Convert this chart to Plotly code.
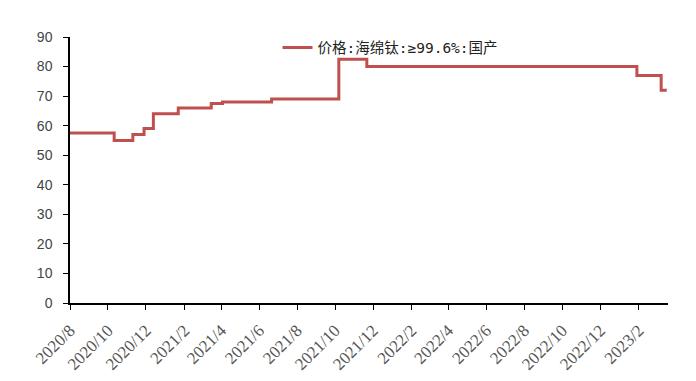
import plotly.graph_objects as go

# Sponge titanium price (domestic, >=99.6%), step changes by date
dates = [
    "2020-08-01", "2020-10-11", "2020-11-10", "2020-11-28", "2020-12-13",
    "2021-01-22", "2021-03-16", "2021-04-03", "2021-06-21", "2021-10-07",
    "2021-11-21", "2023-01-29", "2023-03-09", "2023-03-18",
]
prices = [
    57.5, 55.0, 57.0, 59.0, 64.0,
    66.0, 67.5, 68.0, 69.0, 82.5,
    80.0, 77.0, 72.0, 72.0,
]
series_name = "价格:海绵钛:≥99.6%:国产"

fig = go.Figure()
fig.add_trace(go.Scatter(
    x=dates, y=prices, mode="lines", name=series_name,
    line=dict(color="#C0504D", width=3, shape="hv"),
))

fig.update_layout(
    width=696, height=381,
    margin=dict(l=70, r=28, t=37, b=78),
    plot_bgcolor="white", paper_bgcolor="white",
    showlegend=True,
    legend=dict(
        x=0.347, y=0.96, xanchor="left", yanchor="middle",
        bgcolor="rgba(0,0,0,0)",
        font=dict(family="DejaVu Sans Mono, Noto Sans CJK SC", size=14.5, color="#222"),
    ),
)
fig.update_xaxes(
    type="date", automargin=False,
    range=["2020-08-01", "2023-03-20"],
    tick0="2020-08-01", dtick="M2", tickformat="%Y/%-m",
    tickangle=-45,
    ticks="outside", ticklen=5, tickcolor="black",
    showline=True, linecolor="black", linewidth=1.5,
    showgrid=False, zeroline=False,
    ticklabelstandoff=4,
    tickfont=dict(family="Liberation Serif", size=17, color="#555"),
)
fig.update_yaxes(
    range=[0, 90], dtick=10, automargin=False,
    ticks="outside", ticklen=5, tickcolor="black",
    showline=True, linecolor="black", linewidth=1.5,
    showgrid=False, zeroline=False,
    ticklabelstandoff=8,
    tickfont=dict(family="Liberation Sans", size=14, color="#444"),
)

fig.write_html("out.html")
